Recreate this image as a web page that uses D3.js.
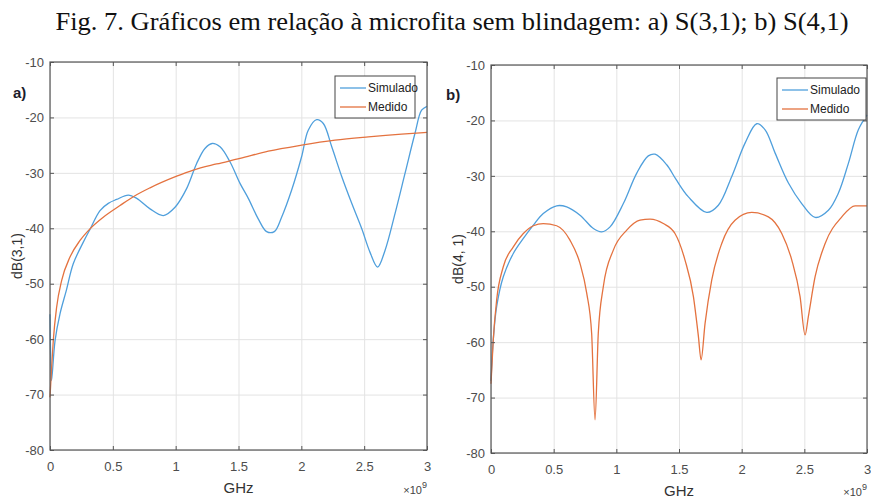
<!DOCTYPE html>
<html>
<head>
<meta charset="utf-8">
<script src="https://cdn.jsdelivr.net/npm/d3@7"></script>
<style>
  body { margin: 0; background: #fff; }
  .tick text { font-family: "Liberation Sans Narrow", "Liberation Sans", Arial, sans-serif; font-size: 13px; fill: #4d4d4d; }
</style>
</head>
<body>
<script>
// data (frequency in GHz, level in dB)
const fSim31 = [0, 0.005, 0.012, 0.04, 0.08, 0.13, 0.185, 0.265, 0.318, 0.398, 0.464, 0.53, 0.623, 0.69, 0.796, 0.902, 0.995, 1.088, 1.167, 1.233, 1.29, 1.353, 1.432, 1.512, 1.578, 1.657, 1.724, 1.785, 1.843, 1.923, 2.002, 2.055, 2.122, 2.175, 2.242, 2.322, 2.401, 2.481, 2.546, 2.607, 2.666, 2.745, 2.825, 2.904, 2.957, 3.0];
const sim31 = [-55.5, -63, -67.5, -60.3, -55.4, -51.2, -46.4, -42.5, -40.2, -36.8, -35.5, -34.8, -34.0, -34.6, -36.5, -37.7, -36.2, -32.8, -28.3, -25.6, -24.7, -25.3, -28.0, -31.9, -34.6, -38.3, -40.6, -40.6, -38.0, -33.1, -27.1, -22.3, -20.4, -21.1, -25.3, -30.7, -35.5, -40.1, -44.3, -47.0, -44.0, -37.4, -30.1, -22.9, -18.7, -18.0];

const fMed31 = [0, 0.013, 0.026, 0.053, 0.093, 0.159, 0.239, 0.318, 0.424, 0.557, 0.663, 0.796, 1.008, 1.14, 1.326, 1.512, 1.737, 2.002, 2.268, 2.533, 2.798, 3.0];
const med31 = [-70.5, -65.1, -60.3, -54.2, -49.4, -45.2, -42.2, -40.1, -38.0, -35.9, -34.3, -32.7, -30.6, -29.5, -28.4, -27.4, -26.1, -25.0, -24.1, -23.5, -23.0, -22.7];

const fSim41 = [0, 0.018, 0.045, 0.098, 0.178, 0.258, 0.338, 0.417, 0.524, 0.604, 0.71, 0.817, 0.883, 0.95, 1.056, 1.163, 1.255, 1.309, 1.402, 1.475, 1.575, 1.721, 1.814, 1.921, 2.027, 2.12, 2.187, 2.267, 2.373, 2.479, 2.586, 2.692, 2.772, 2.852, 2.931, 3.0];
const sim41 = [-67, -59.6, -53.6, -48.2, -44.0, -41.3, -38.9, -36.8, -35.4, -35.6, -37.1, -39.5, -40.1, -39.2, -35.0, -29.5, -26.4, -26.1, -28.0, -30.6, -33.8, -36.6, -35.3, -30.1, -24.1, -20.6, -21.7, -25.9, -31.3, -35.0, -37.5, -36.2, -33.1, -27.7, -21.7, -19.0];

const fMed41 = [0, 0.018, 0.045, 0.098, 0.178, 0.258, 0.338, 0.417, 0.524, 0.63, 0.71, 0.764, 0.803, 0.83, 0.856, 0.896, 0.976, 1.083, 1.189, 1.269, 1.375, 1.468, 1.548, 1.615, 1.655, 1.676, 1.708, 1.761, 1.841, 1.947, 2.081, 2.213, 2.32, 2.4, 2.466, 2.506, 2.532, 2.586, 2.666, 2.799, 2.905, 3.0];
const med41 = [-67.5, -59.6, -52.4, -46.4, -42.8, -40.4, -39.0, -38.6, -39.0, -41.6, -45.8, -51.2, -58.4, -74.0, -58.4, -50.0, -43.4, -39.8, -38.0, -37.8, -38.6, -40.4, -45.2, -51.8, -59.0, -63.2, -56.6, -48.8, -42.2, -38.0, -36.6, -37.4, -40.4, -45.2, -51.8, -58.7, -55.4, -48.2, -42.2, -37.4, -35.4, -35.4];

const xTicks = [0, 0.5, 1, 1.5, 2, 2.5, 3];
const yTicks = [-80, -70, -60, -50, -40, -30, -20, -10];
const seriesNames = ["Simulado", "Medido"];

const colSim = "#4f9fdc", colMed = "#e4723f";

const W = 871, H = 500;
const svg = d3.select("body").append("svg").attr("width", W).attr("height", H);

svg.append("text")
  .attr("x", 452).attr("y", 30)
  .attr("text-anchor", "middle")
  .attr("textLength", 793).attr("lengthAdjust", "spacingAndGlyphs")
  .style("font-family", "'Liberation Serif', 'Times New Roman', Times, serif")
  .style("font-size", "25px")
  .style("fill", "#111")
  .text("Fig. 7. Gráficos em relação à microfita sem blindagem: a) S(3,1); b) S(4,1)");

const panels = [
  { left: 50, right: 427, top: 62, bottom: 450, tag: "a)", tagX: 13, tagY: 98, ylab: "dB(3,1)", ylabX: 22,
    sim: [fSim31, sim31], med: [fMed31, med31], leg: [335, 76, 80, 42] },
  { left: 491, right: 867, top: 65, bottom: 453, tag: "b)", tagX: 446, tagY: 100, ylab: "dB(4, 1)", ylabX: 463,
    sim: [fSim41, sim41], med: [fMed41, med41], leg: [777, 78, 89, 42] }
];

panels.forEach(p => {
  const x = d3.scaleLinear().domain([0, 3]).range([p.left, p.right]);
  const y = d3.scaleLinear().domain([-80, -10]).range([p.bottom, p.top]);
  const g = svg.append("g");

  // grid
  g.append("g").attr("transform", `translate(0,${p.bottom})`)
    .call(d3.axisBottom(x).tickValues(xTicks).tickSize(-(p.bottom - p.top)).tickFormat(""))
    .call(s => s.select(".domain").remove())
    .selectAll("line").attr("stroke", "#e3e3e3");
  g.append("g").attr("transform", `translate(${p.left},0)`)
    .call(d3.axisLeft(y).tickValues(yTicks).tickSize(-(p.right - p.left)).tickFormat(""))
    .call(s => s.select(".domain").remove())
    .selectAll("line").attr("stroke", "#e3e3e3");

  // lines: simulated curves are smooth, measured ones have sharp notches
  const lineSmooth = d3.line().x(d => x(d[0])).y(d => y(d[1])).curve(d3.curveCatmullRom.alpha(0.5));
  const lineNotch = d3.line().x(d => x(d[0])).y(d => y(d[1])).curve(d3.curveMonotoneX);
  [[p.sim, colSim, lineSmooth], [p.med, colMed, lineNotch]].forEach(([s, c, ln]) => {
    const pts = s[0].map((f, i) => [f, s[1][i]]);
    g.append("path").datum(pts)
      .attr("fill", "none").attr("stroke", c).attr("stroke-width", 1.3)
      .attr("d", ln);
  });

  // axes (inward ticks)
  const xa = g.append("g").attr("transform", `translate(0,${p.bottom})`)
    .call(d3.axisBottom(x).tickValues(xTicks).tickSize(-4).tickPadding(12).tickFormat(d => String(d)));
  const ya = g.append("g").attr("transform", `translate(${p.left},0)`)
    .call(d3.axisLeft(y).tickValues(yTicks).tickSize(-4).tickPadding(6).tickFormat(d => String(d)));
  [xa, ya].forEach(a => {
    a.select(".domain").remove();
    a.selectAll("line").attr("stroke", "#555");
  });
  g.append("g").attr("transform", `translate(${p.right},0)`)
    .call(d3.axisRight(y).tickValues(yTicks).tickSize(-4).tickFormat(""))
    .call(s => s.select(".domain").remove())
    .selectAll("line").attr("stroke", "#555");
  g.append("g").attr("transform", `translate(0,${p.top})`)
    .call(d3.axisTop(x).tickValues(xTicks).tickSize(-4).tickFormat(""))
    .call(s => s.select(".domain").remove())
    .selectAll("line").attr("stroke", "#555");

  g.append("rect")
    .attr("x", p.left).attr("y", p.top)
    .attr("width", p.right - p.left).attr("height", p.bottom - p.top)
    .attr("fill", "none").attr("stroke", "#555").attr("stroke-width", 1.2);

  // labels
  g.append("text")
    .attr("x", (p.left + p.right) / 2).attr("y", p.bottom + 43)
    .attr("text-anchor", "middle")
    .style("font-family", "'Liberation Sans', Arial, sans-serif").style("font-size", "15px").style("fill", "#333")
    .text("GHz");
  const ex = g.append("text")
    .attr("x", p.right).attr("y", Math.min(p.bottom + 44, 496))
    .attr("text-anchor", "end")
    .style("font-family", "'Liberation Sans', Arial, sans-serif").style("font-size", "11px").style("fill", "#444");
  ex.append("tspan").text("×10");
  ex.append("tspan").attr("dy", -6).style("font-size", "9px").text("9");

  g.append("text")
    .attr("transform", `translate(${p.ylabX},${(p.top + p.bottom) / 2}) rotate(-90)`)
    .attr("text-anchor", "middle")
    .style("font-family", "'Liberation Sans', Arial, sans-serif").style("font-size", "14px").style("fill", "#333")
    .text(p.ylab);

  g.append("text")
    .attr("x", p.tagX).attr("y", p.tagY)
    .style("font-family", "'Liberation Sans', Arial, sans-serif").style("font-size", "15px")
    .style("font-weight", "bold").style("fill", "#1c1c2c")
    .text(p.tag);

  // legend
  const [lx, ly, lw, lh] = p.leg;
  const lg = g.append("g");
  lg.append("rect").attr("x", lx).attr("y", ly).attr("width", lw).attr("height", lh)
    .attr("fill", "#fff").attr("stroke", "#444").attr("stroke-width", 1);
  seriesNames.forEach((n, i) => {
    const yy = ly + 12 + i * 19;
    lg.append("line").attr("x1", lx + 5).attr("x2", lx + 31).attr("y1", yy).attr("y2", yy)
      .attr("stroke", i === 0 ? colSim : colMed).attr("stroke-width", 1.3);
    lg.append("text").attr("x", lx + 33).attr("y", yy + 4)
      .style("font-family", "'Liberation Sans Narrow', 'Liberation Sans', Arial, sans-serif")
      .style("font-size", "12px").style("fill", "#222")
      .text(n);
  });
});
</script>
</body>
</html>
